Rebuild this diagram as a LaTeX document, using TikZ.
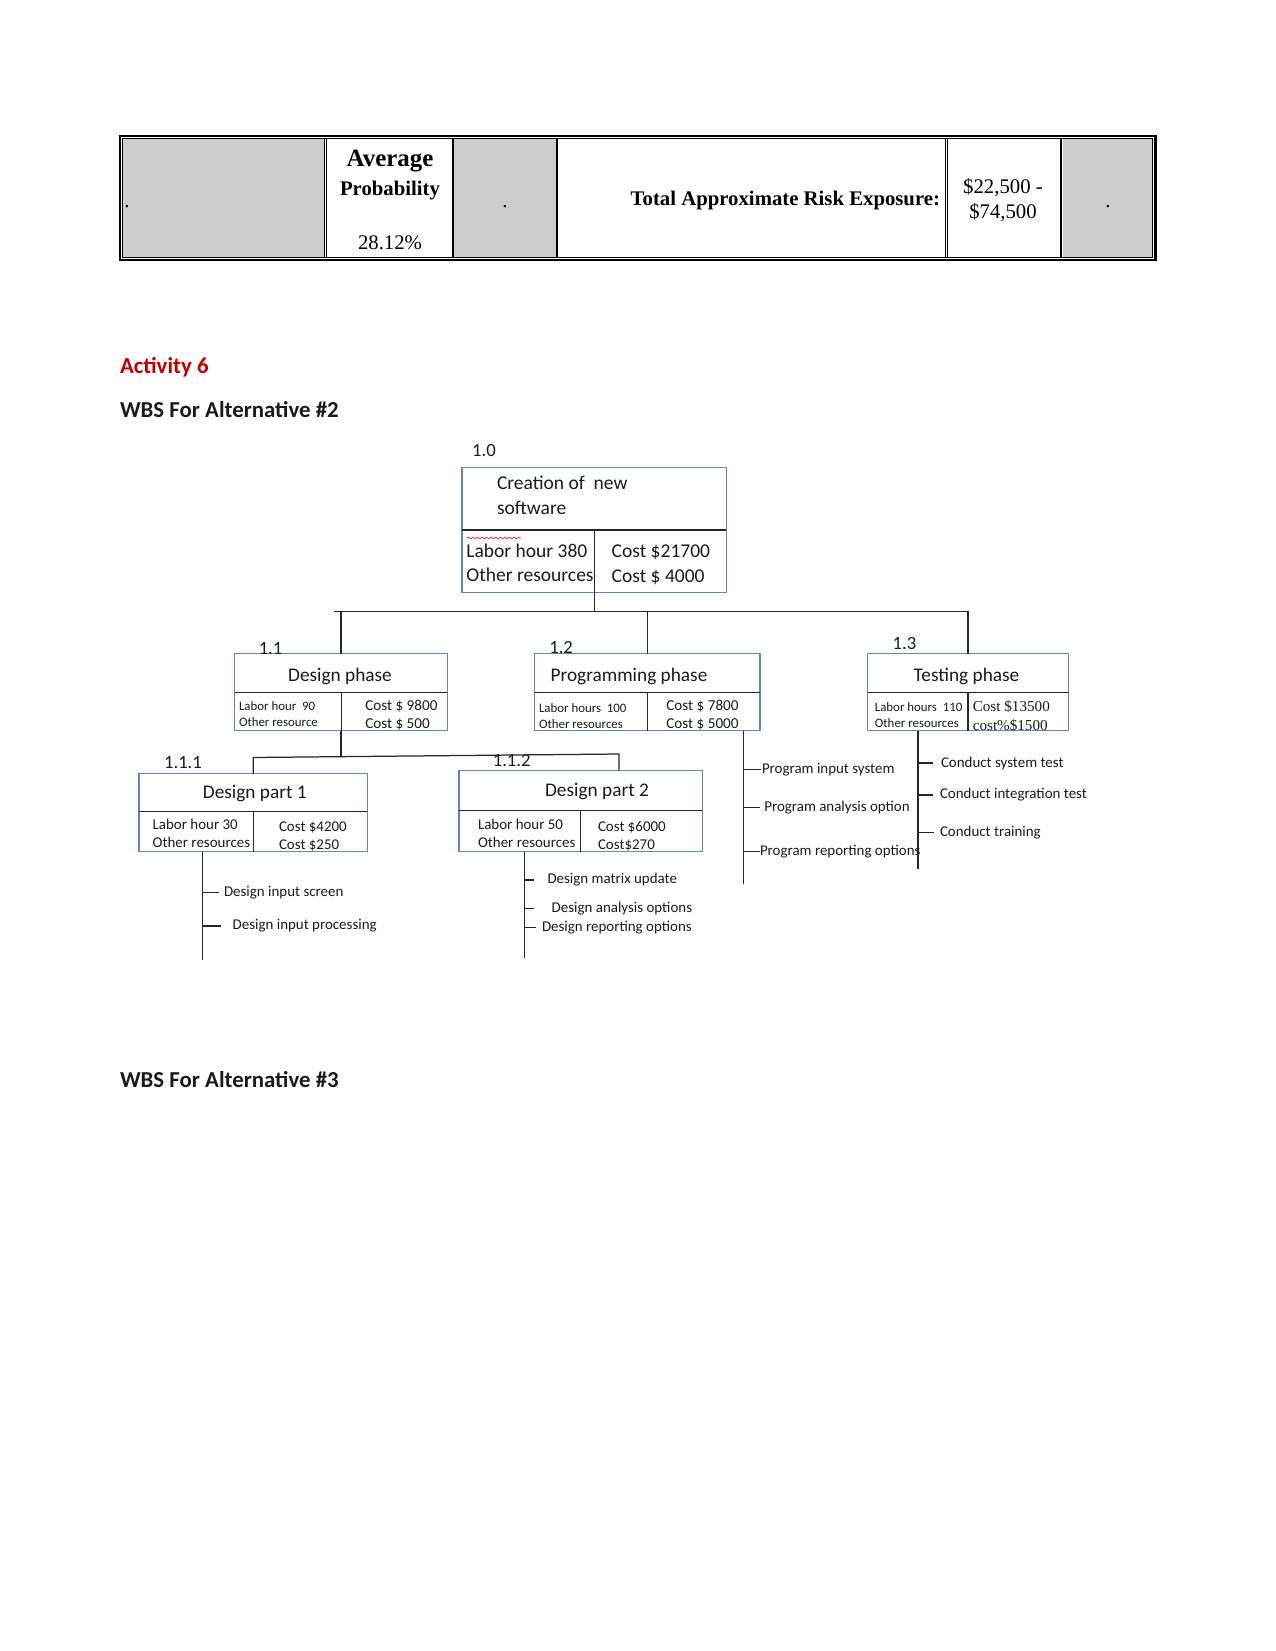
\documentclass[tikz,border=0pt]{standalone}
\usepackage{fontspec}
\setmainfont{Carlito}
\newfontfamily\serifface{Liberation Serif}
\usetikzlibrary{positioning, fit, decorations.pathmorphing}
\definecolor{clrbox}{HTML}{5F86BE}
\definecolor{clrline}{HTML}{262626}
\definecolor{clrtext}{HTML}{1A1A1A}
\definecolor{clrcell}{HTML}{CCCCCC}
\definecolor{clrhead}{HTML}{C00000}
\definecolor{clrsquiggle}{HTML}{E03030}

\begin{document}
\begin{tikzpicture}[
    x=0.4818pt, y=-0.4818pt,
    every node/.style={inner sep=0pt, outer sep=0pt, text=clrtext},
    wbsbox/.style={draw=clrbox, line width=0.65pt, inner sep=0pt},
    divider/.style={draw=clrline, line width=0.55pt},
    conn/.style={draw=clrline, line width=0.6pt},
    rulethick/.style={draw=black, line width=1.1pt},
    rulemid/.style={draw=black, line width=0.75pt},
    rulethin/.style={draw=black, line width=0.45pt},
    cellfill/.style={fill=clrcell},
    heading/.style={font=\fontsize{11}{13}\selectfont\bfseries, anchor=west},
    wbsnum/.style={font=\fontsize{9}{11}\selectfont, yshift=-1pt},
    boxtitle/.style={font=\fontsize{9.3}{11}\selectfont, yshift=-1pt},
    rootline/.style={font=\fontsize{9.4}{11.7}\selectfont, anchor=west, align=left, yshift=-1pt},
    tinyline/.style={font=\fontsize{6.2}{7.6}\selectfont, anchor=west, align=left, yshift=-0.8pt},
    costline/.style={font=\fontsize{7.3}{8.6}\selectfont, anchor=west, align=left, yshift=-0.8pt},
    detail/.style={font=\fontsize{7.2}{8.7}\selectfont, anchor=west, align=left, yshift=-1pt},
    leaf/.style={font=\fontsize{7.2}{8.6}\selectfont, anchor=west, yshift=-1pt},
    tabtext/.style={font=\serifface\fontsize{10}{12}\selectfont, text=black, yshift=-1.4pt},
]
\useasboundingbox (0,0) rectangle (1275,1651);

% risk table
\fill[cellfill] (122.8,138.8) rectangle (324,257);
\fill[cellfill] (454,138.8) rectangle (556,257);
\fill[cellfill] (1062.5,138.8) rectangle (1152,257);
\draw[rulethick] (120.2,135.9) rectangle (1155.5,259.9);
\draw[rulethin] (122.3,138.3) rectangle (1152.5,257.5);
\draw[rulethin] (324.6,138.3) -- (324.6,257.5);
\draw[rulemid] (326.6,138.3) -- (326.6,257.5);
\draw[rulethick] (453,138.3) -- (453,257.5);
\draw[rulethick] (557,138.3) -- (557,257.5);
\draw[rulethin] (945,138.3) -- (945,257.5);
\draw[rulethin] (947.4,138.3) -- (947.4,257.5);
\draw[rulethick] (1061.3,138.3) -- (1061.3,257.5);
\node[tabtext] (t_1) at (127,204) {.};
\node[tabtext, font=\serifface\fontsize{12}{14}\selectfont\bfseries] (t_2) at (390,158) {Average};
\node[tabtext, font=\serifface\fontsize{10}{12}\selectfont\bfseries] (t_3) at (390,187.4) {Probability};
\node[tabtext] (t_4) at (390,239.5) {28.12\%};
\node[tabtext] (t_5) at (505,204) {.};
\node[tabtext, font=\serifface\fontsize{10}{12}\selectfont\bfseries, anchor=east] (t_6) at (940,198) {Total Approximate Risk Exposure:};
\node[tabtext, align=center] (t_7) at (1003,197.5) {\$22,500 -\\\$74,500};
\node[tabtext] (t_8) at (1108,204) {.};

% headings
\node[heading, text=clrhead, yshift=-1pt] (h_1) at (120,365) {Activity 6};
\node[heading] (h_2) at (120,409.5) {WBS For Alternative \#2};
\node[heading] (h_3) at (120,1080) {WBS For Alternative \#3};

% root
\node[wbsbox, fit={(462,467.4) (726.4,592.7)}] (n_1) {};
\draw[divider] (n_1.west |- 0,530) -- (n_1.east |- 0,530);
\draw[divider] (n_1.south |- 0,530) -- (n_1.south);
\node[wbsnum] (n_1_num) at (484,448.5) {1.0};
\node[rootline] (n_1_title) at (497,493.2) {Creation of\ \ new\\software};
\node[rootline] (n_1_left) at (466.4,560.6) {Labor hour 380\\Other resources};
\node[rootline] (n_1_right) at (611.7,562.7) {Cost \$21700\\Cost \$ 4000};
\draw[clrsquiggle, line width=0.35pt, decorate, decoration={snake, amplitude=0.45pt, segment length=2.2pt}] (467,538) -- (521,538);

% level 1
\node[wbsbox, fit={(234.8,653.8) (447.4,730.6)}] (n_2) {};
\draw[divider] (n_2.west |- 0,692.7) -- (n_2.east |- 0,692.7);
\draw[divider] (n_2.south |- 0,692.7) -- (n_2.south);
\node[wbsnum] (n_2_num) at (270.6,646.4) {1.1};
\node[boxtitle] (n_2_title) at (340,674.8) {Design phase};
\node[tinyline] (n_2_left) at (239,712.2) {Labor hour\ \ 90\\Other resource};
\node[costline] (n_2_right) at (365.3,713.2) {Cost \$ 9800\\Cost \$ 500};

\node[wbsbox, fit={(534.8,653.8) (760.1,730.6)}] (n_3) {};
\draw[divider] (n_3.west |- 0,692.7) -- (n_3.east |- 0,692.7);
\draw[divider] (n_3.south |- 0,692.7) -- (n_3.south);
\node[wbsnum] (n_3_num) at (561.1,645.4) {1.2};
\node[boxtitle, anchor=west] (n_3_title) at (550.6,674.8) {Programming phase};
\node[tinyline] (n_3_left) at (539,714.3) {Labor hours\ \ 100\\Other resources};
\node[costline] (n_3_right) at (666.4,713.2) {Cost \$ 7800\\Cost \$ 5000};

\node[wbsbox, fit={(867.5,653.8) (1068.6,730.6)}] (n_4) {};
\draw[divider] (n_4.west |- 0,692.7) -- (n_4.east |- 0,692.7);
\draw[divider] (n_4.south |- 0,692.7) -- (n_4.south);
\node[wbsnum] (n_4_num) at (904.4,641.2) {1.3};
\node[boxtitle] (n_4_title) at (966.5,674.8) {Testing phase};
\node[tinyline] (n_4_left) at (874.9,713.3) {Labor hours\ \ 110\\Other resources};
\node[costline, font=\serifface\fontsize{7.3}{9.4}\selectfont] (n_4_right) at (972.8,714.2) {Cost \$13500\\cost\%\$1500};

% level 2
\node[wbsbox, fit={(139,773.8) (367.4,851.7)}] (n_5) {};
\draw[divider] (n_5.west |- 0,811.7) -- (n_5.east |- 0,811.7);
\draw[divider] (n_5.south |- 0,811.7) -- (n_5.south);
\node[wbsnum] (n_5_num) at (183,760) {1.1.1};
\node[boxtitle] (n_5_title) at (254.8,791.7) {Design part 1};
\node[detail] (n_5_left) at (152.7,831.2) {Labor hour 30\\Other resources};
\node[detail] (n_5_right) at (279,834.4) {Cost \$4200\\Cost \$250};

\node[wbsbox, fit={(459,770.6) (702.2,851.7)}] (n_6) {};
\draw[divider] (n_6.west |- 0,810.7) -- (n_6.east |- 0,810.7);
\draw[divider] (n_6.south |- 0,810.7) -- (n_6.south);
\node[wbsnum] (n_6_num) at (511.7,758) {1.1.2};
\node[boxtitle] (n_6_title) at (597,789.6) {Design part 2};
\node[detail] (n_6_left) at (478,831.2) {Labor hour 50\\Other resources};
\node[detail] (n_6_right) at (598,833.8) {Cost \$6000\\Cost\$270};

% tree lines
\coordinate (j_1) at (333.7,611.7);
\draw[conn] (n_1.south) -- (n_1.south |- j_1);
\draw[conn] (j_1) -- (n_4.north |- j_1) -- (n_4.north);
\draw[conn] (n_2.north) -- (n_2.north |- j_1);
\draw[conn] (n_3.north) -- (n_3.north |- j_1);
\coordinate (j_2l) at (253.7,757.5);
\coordinate (j_2r) at (619,754);
\draw[conn] (n_2.south) -- (n_2.south |- 0,756.6);
\draw[conn] (n_5.north) -- (n_5.north |- j_2l) -- (j_2r) -- (j_2r |- n_6.north);

% work packages
\coordinate (n_5_end) at (202.7,960);
\node[leaf] (n_5_a) at (224,890.6) {Design input screen};
\node[leaf] (n_5_b) at (232.7,924) {Design input processing};
\draw[conn] (n_5.south -| n_5_end) -- (n_5_end);
\draw[conn, shorten >=2.4pt] (n_5_end |- n_5_a.west) -- (n_5_a.west);
\draw[conn, shorten >=5.6pt] (n_5_end |- n_5_b.west) -- (n_5_b.west);

\coordinate (n_6_end) at (524.3,958);
\node[leaf] (n_6_a) at (547.5,878) {Design matrix update};
\node[leaf] (n_6_b) at (551.7,906.5) {Design analysis options};
\node[leaf] (n_6_c) at (542,925.4) {Design reporting options};
\draw[conn] (n_6.south -| n_6_end) -- (n_6_end);
\draw[conn, shorten >=6.5pt] (n_6_end |- n_6_a.west) -- (n_6_a.west);
\draw[conn, shorten >=8.5pt] (n_6_end |- n_6_b.west) -- (n_6_b.west);
\draw[conn, shorten >=2.9pt] (n_6_end |- n_6_c.west) -- (n_6_c.west);

\coordinate (n_3_end) at (743.3,884);
\node[leaf] (n_3_a) at (762,767.5) {Program input system};
\node[leaf] (n_3_b) at (764.3,805.4) {Program analysis option};
\node[leaf] (n_3_c) at (760,849.6) {Program reporting options};
\draw[conn] (n_3.south -| n_3_end) -- (n_3_end);
\draw[conn, shorten >=0.5pt] (n_3_end |- n_3_a.west) -- (n_3_a.west);
\draw[conn, shorten >=2pt] (n_3_end |- n_3_b.west) -- (n_3_b.west);
\draw[conn] (n_3_end |- n_3_c.west) -- (n_3_c.west);

\coordinate (n_4_end) at (918,868.6);
\node[leaf] (n_4_a) at (941,761) {Conduct system test};
\node[leaf] (n_4_b) at (940,792.8) {Conduct integration test};
\node[leaf] (n_4_c) at (940,830.6) {Conduct training};
\draw[conn] (n_4.south -| n_4_end) -- (n_4_end);
\draw[conn, shorten >=3.9pt] (n_4_end |- n_4_a.west) -- (n_4_a.west);
\draw[conn, shorten >=3.4pt] (n_4_end |- n_4_b.west) -- (n_4_b.west);
\draw[conn, shorten >=2.9pt] (n_4_end |- n_4_c.west) -- (n_4_c.west);
\end{tikzpicture}
\end{document}
